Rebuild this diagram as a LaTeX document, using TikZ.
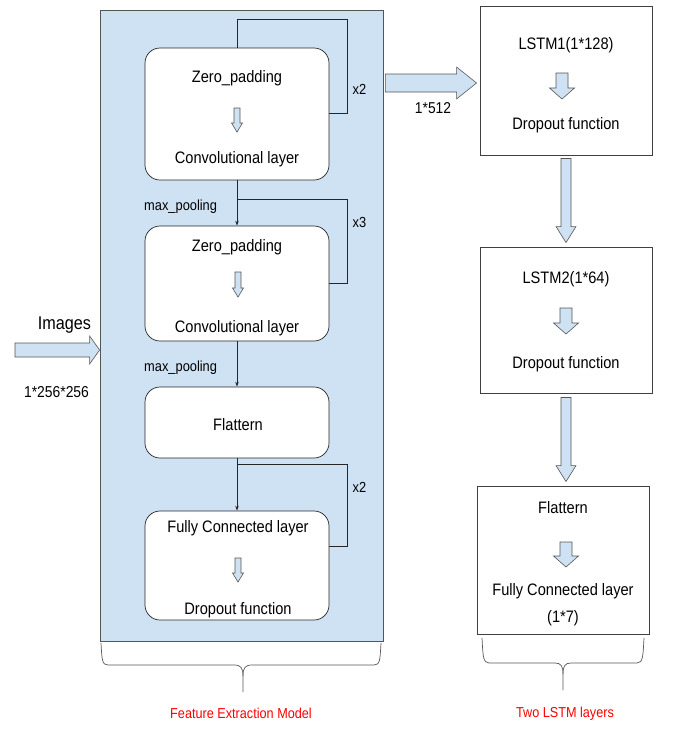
\documentclass[tikz,border=0pt]{standalone}
\usepackage{fontspec}
\setmainfont{Liberation Sans}[FakeStretch=0.88]
\usetikzlibrary{calc,arrows.meta}
\definecolor{fillblue}{HTML}{CFE2F3}
\definecolor{edgegray}{HTML}{555555}
\definecolor{redtxt}{HTML}{FF0000}
\newcommand\myvarrow[5]{%
  \draw[blockarr] let \p1=(#1), \p2=(#2) in
   (\x1-#3pt,\y1) -- (\x1+#3pt,\y1) -- (\x1+#3pt,\y2+#5pt) -- (\x1+#4pt,\y2+#5pt)
   -- (\x1,\y2) -- (\x1-#4pt,\y2+#5pt) -- (\x1-#3pt,\y2+#5pt) -- cycle;}
\newcommand\myharrow[5]{%
  \draw[blockarr] let \p1=(#1), \p2=(#2) in
   (\x1,\y1+#3pt) -- (\x2-#5pt,\y1+#3pt) -- (\x2-#5pt,\y1+#4pt) -- (\x2,\y1)
   -- (\x2-#5pt,\y1-#4pt) -- (\x2-#5pt,\y1-#3pt) -- (\x1,\y1-#3pt) -- cycle;}
\begin{document}
\begin{tikzpicture}[x=1pt,y=-1pt,
  bluebox/.style={draw=edgegray,fill=fillblue,line width=0.8pt,inner sep=0pt},
  lbox/.style={draw=black!85,fill=white,rounded corners=15pt,line width=0.7pt,inner sep=0pt},
  rbox/.style={draw=black!75,fill=white,line width=0.9pt,inner sep=0pt},
  blockarr/.style={draw=edgegray,fill=fillblue,line width=0.6pt,line join=miter},
  txt/.style={inner sep=0pt,anchor=base,font=\fontsize{16.6}{19}\selectfont},
  small/.style={inner sep=0pt,anchor=base,font=\fontsize{14.6}{17}\selectfont},
  redlab/.style={inner sep=0pt,anchor=base,text=redtxt,font=\fontsize{14.4}{17}\selectfont},
  flow/.style={draw=black!85,line width=0.6pt,-{Stealth[length=5pt,width=3.5pt]}},
  loopline/.style={draw=black!85,line width=0.7pt},
  brace/.style={draw=black!65,line width=0.7pt}]
\useasboundingbox (0,0) rectangle (677,729);
\fill[white] (0,0) rectangle (677,729);

% feature extraction panel
\node[bluebox,minimum width=283pt,minimum height=631pt] (fe) at (241.5,325.5) {};

% left boxes
\node[lbox,minimum width=184pt,minimum height=132pt] (b1) at (237,114) {};
\node[lbox,minimum width=184pt,minimum height=115pt] (b2) at (237,283.5) {};
\node[lbox,minimum width=184pt,minimum height=71pt] (b3) at (237,422.5) {};
\node[lbox,minimum width=184pt,minimum height=109pt] (b4) at (237,565.5) {};

\node[txt] (t1a) at (237,82) {Zero\_padding};
\node[txt] (t1b) at (237,163) {Convolutional layer};
\node[txt] (t2a) at (237,251) {Zero\_padding};
\node[txt] (t2b) at (237,332) {Convolutional layer};
\node[txt] (t3) at (238,430) {Flattern};
\node[txt] (t4a) at (238,532) {Fully Connected layer};
\node[txt] (t4b) at (238,614) {Dropout function};

% small arrows inside left boxes
\coordinate (s1a) at (237,108); \coordinate (s1b) at (237,132);
\coordinate (s2a) at (238,272); \coordinate (s2b) at (238,297);
\coordinate (s4a) at (238,558); \coordinate (s4b) at (238,582);
\myvarrow{s1a}{s1b}{3}{5.5}{9}
\myvarrow{s2a}{s2b}{3}{5.5}{9}
\myvarrow{s4a}{s4b}{3}{5.5}{9}

% flows between left boxes
\draw[flow] (b1.south) -- (b2.north);
\draw[flow] (b2.south) -- (b3.north);
\draw[flow] (b3.south) -- (b4.north);

% loops
\coordinate (j2) at (b1.south |- 0,199);
\coordinate (j4) at (b3.south |- 0,464);
\draw[loopline] (b1.north) -- (b1.north |- 0,19) -| (347,113) -- (b1.east |- 0,113);
\draw[loopline] (j2) -| (347,283) -- (b2.east |- 0,283);
\draw[loopline] (j4) -| (347,546) -- (b4.east |- 0,546);

\node[small] (x1) at (359.5,94) {x2};
\node[small] (x3) at (359.5,227) {x3};
\node[small] (x2b) at (359.5,492) {x2};
\node[small,anchor=base west] (mp1) at (144,210) {max\_pooling};
\node[small,anchor=base west] (mp2) at (144,371) {max\_pooling};

% input arrow
\coordinate (inA) at (15,350);
\coordinate (inB) at (fe.west |- 0,350);
\myharrow{inA}{inB}{7}{14}{10}
\node[inner sep=0pt,anchor=base,font=\fontsize{18.4}{21}\selectfont] (img) at (64.5,329) {Images};
\node[inner sep=0pt,anchor=base,font=\fontsize{15.8}{19}\selectfont] (dim) at (56.5,397) {1*256*256};

% right boxes
\node[rbox,minimum width=172pt,minimum height=149pt] (r1) at (566,80.5) {};
\node[rbox,minimum width=172pt,minimum height=146pt] (r2) at (566,320) {};
\node[rbox,minimum width=172pt,minimum height=148pt] (r3) at (563,560) {};

\node[txt] (u1a) at (566,49) {LSTM1(1*128)};
\node[txt] (u1b) at (566,129) {Dropout function};
\node[txt] (u2a) at (566,283) {LSTM2(1*64)};
\node[txt] (u2b) at (566,368) {Dropout function};
\node[txt] (u3a) at (563,513) {Flattern};
\node[txt] (u3b) at (563,595) {Fully Connected layer};
\node[txt] (u3c) at (563,622) {(1*7)};

\coordinate (q1a) at (562,73); \coordinate (q1b) at (562,99);
\coordinate (q2a) at (566,308); \coordinate (q2b) at (566,334);
\coordinate (q3a) at (566,542); \coordinate (q3b) at (566,567);
\myvarrow{q1a}{q1b}{6}{12.5}{11}
\myvarrow{q2a}{q2b}{6}{12.5}{11}
\myvarrow{q3a}{q3b}{6}{12.5}{11}

% arrow from feature panel to LSTM1
\coordinate (mA) at ($(fe.east |- 0,83)+(2,0)$);
\coordinate (mB) at ($(r1.west |- 0,83)+(-3,0)$);
\myharrow{mA}{mB}{9}{16}{20}
\node[inner sep=0pt,anchor=base,font=\fontsize{15.7}{19}\selectfont] (d512) at (433,113) {1*512};

% arrows between right boxes
\coordinate (vA) at ($(r1.south -| 566,0)+(0,3)$);
\coordinate (vB) at ($(r2.north -| 566,0)+(0,-4)$);
\coordinate (wA) at ($(r2.south -| 566,0)+(0,4)$);
\coordinate (wB) at ($(r3.north -| 566,0)+(0,-4)$);
\myvarrow{vA}{vB}{5}{10}{16}
\myvarrow{wA}{wB}{5}{10}{16}

% braces
\draw[brace] (101,643) .. controls (102,660) and (102,665) .. (108,665) -- (234,665)
  .. controls (241,665) and (243,668) .. (243,676) -- (243,692);
\draw[brace] (381,643) .. controls (380,660) and (380,665) .. (374,665) -- (252,665)
  .. controls (245,665) and (243,668) .. (243,676);
\draw[brace] (482,638) .. controls (483,656) and (483,663) .. (489,663) -- (555,663)
  .. controls (561,663) and (563,666) .. (563,674) -- (563,690);
\draw[brace] (644,638) .. controls (643,656) and (643,663) .. (637,663) -- (571,663)
  .. controls (565,663) and (563,666) .. (563,674);

\node[redlab] (lab1) at (241,718) {Feature Extraction Model};
\node[redlab] (lab2) at (565,717) {Two LSTM layers};
\end{tikzpicture}
\end{document}
